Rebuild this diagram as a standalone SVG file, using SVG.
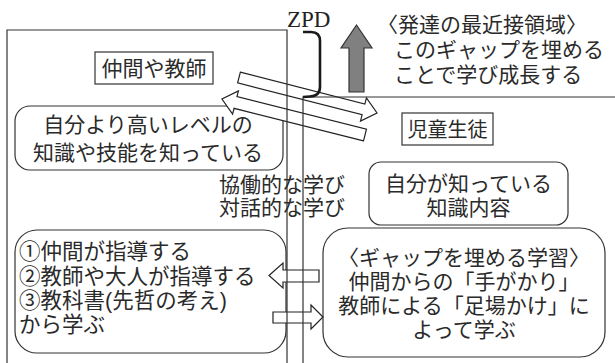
<svg xmlns="http://www.w3.org/2000/svg" width="615" height="363" viewBox="0 0 615 363">
<style>
.t{font-family:"Liberation Sans","Noto Sans CJK JP","Noto Sans CJK SC",sans-serif;fill:#2a2a2a;}
.box{fill:#fff;stroke:#333;stroke-width:1.2;}
.frame{fill:none;stroke:#333;stroke-width:1.2;}
.arr{fill:#fff;stroke:#222;stroke-width:1.2;stroke-linejoin:miter;}
</style>
<rect width="615" height="363" fill="#fff"/>

<g id="adult-box-label">
<rect class="box" x="95" y="52" width="118" height="32"/>
<text class="t" x="154" y="76" font-size="21" text-anchor="middle">仲間や教師</text>
</g>
<g id="higher-level">
<rect class="box" x="15" y="106" width="268" height="64" rx="15"/>
<text class="t" font-size="21" text-anchor="middle"><tspan x="148" y="132">自分より高いレベルの</tspan><tspan x="148" y="160">知識や技能を知っている</tspan></text>
</g>
<g id="collab-label">
<text class="t" font-size="21"><tspan x="219" y="191.5">協働的な学び</tspan><tspan x="219" y="214.5">対話的な学び</tspan></text>
</g>
<g id="guidance">
<rect class="box" x="15" y="230" width="271" height="123" rx="22"/>
<text class="t" font-size="21.5"><tspan x="19" y="259">①仲間が指導する</tspan><tspan x="19" y="284">②教師や大人が指導する</tspan><tspan x="19" y="308">③教科書(先哲の考え)</tspan><tspan x="19" y="332">から学ぶ</tspan></text>
</g>
<g id="student-label">
<rect class="box" x="402" y="113" width="91" height="32"/>
<text class="t" x="447.5" y="136.5" font-size="20" text-anchor="middle">児童生徒</text>
</g>
<g id="own-knowledge">
<rect class="box" x="369" y="162" width="199" height="63" rx="12"/>
<text class="t" font-size="21" text-anchor="middle"><tspan x="468.5" y="191">自分が知っている</tspan><tspan x="468.5" y="215">知識内容</tspan></text>
</g>
<g id="gap-learning">
<rect class="box" x="323" y="228" width="282" height="129" rx="25"/>
<text class="t" font-size="21" text-anchor="middle"><tspan x="464" y="265">〈ギャップを埋める学習〉</tspan><tspan x="464" y="289">仲間からの「手がかり」</tspan><tspan x="464" y="313">教師による「足場かけ」に</tspan><tspan x="464" y="337">よって学ぶ</tspan></text>
</g>
<g id="zpd-note">
<text class="t" font-size="21"><tspan x="377" y="32">〈発達の最近接領域〉</tspan><tspan x="394" y="57">このギャップを埋める</tspan><tspan x="394" y="82">ことで学び成長する</tspan></text>
</g>
<g id="growth-arrow">
<polygon points="356.5,25 372,48 364,48 364,92 349,92 349,48 341,48" fill="#808080" stroke="#333" stroke-width="1.2"/>
</g>

<g id="connectors">
<polygon class="arr" transform="translate(239,77.5) rotate(14.4)" points="0,-5.5 128.5,-5.5 128.5,-12 142.5,0 128.5,12 128.5,5.5 0,5.5"/>
<polygon class="arr" transform="translate(365,135) rotate(194.1)" points="0,-6 133.5,-6 133.5,-12 147.5,0 133.5,12 133.5,6 0,6"/>
<polygon class="arr" points="269,275.5 283,263 283,270 319,270 319,282 283,282 283,288"/>
<polygon class="arr" points="273,312 311,312 311,305 323,317 311,329 311,323 273,323"/>
</g>

<g id="adult-frame">
<path class="frame" d="M7,364 V30 H287 V364"/>
</g>
<g id="student-frame">
<path class="frame" d="M303,364 V97 H616"/>
</g>
<g id="zpd">
<text x="287" y="27" font-family="Liberation Serif, serif" font-size="23" fill="#222">ZPD</text>
<path d="M303,32 H311 Q320,32 320,41 V87 Q320,96 310,96.5 L303,97" fill="none" stroke="#1a1a1a" stroke-width="2.6"/>
</g>
</svg>
